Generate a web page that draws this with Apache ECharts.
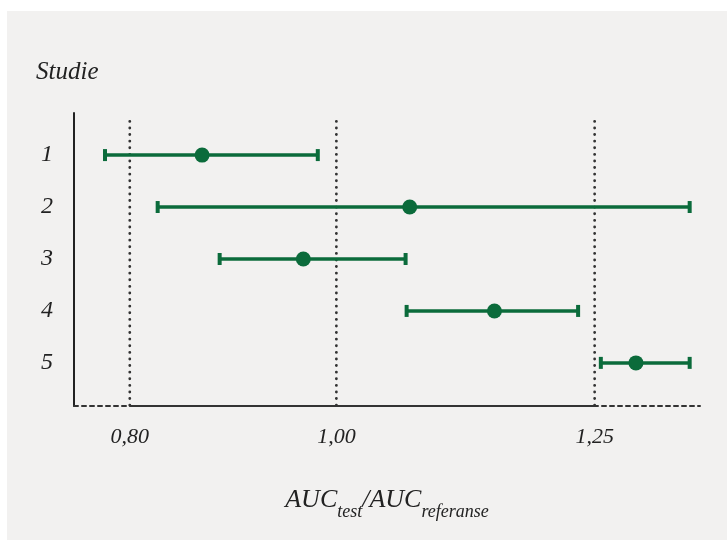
<!DOCTYPE html>
<html>
<head>
<meta charset="utf-8">
<script src="https://cdn.jsdelivr.net/npm/echarts@6/dist/echarts.min.js"></script>
<style>
  html, body { margin: 0; padding: 0; background: #fff; }
  #chart { width: 727px; height: 542px; }
</style>
</head>
<body>
<div id="chart"></div>
<script>
  // studier og konfidensintervall (AUC test / AUC referanse)
  var studies = [1, 2, 3, 4, 5]
  var lower = [0.776, 0.827, 0.887, 1.068, 1.256]
  var estimate = [0.870, 1.071, 0.968, 1.153, 1.290]
  var upper = [0.982, 1.342, 1.067, 1.234, 1.342]
  var limits = [0.80, 1.00, 1.25]

  var green = '#0b6b3b'
  var ink = '#222'
  var serif = '"Liberation Serif", "DejaVu Serif", serif'

  var xMin = 0.746
  var xMax = 1.352
  var yTop = 0.19
  var yBottom = 5.83

  var barData = []
  var pointData = []
  for (var i = 0; i < studies.length; i++) {
    barData.push([lower[i], upper[i], studies[i]])
    pointData.push([estimate[i], studies[i]])
  }

  var limitSeries = limits.map(function (v) {
    return {
      type: 'line',
      silent: true,
      symbol: 'none',
      z: 1,
      lineStyle: { color: '#333', width: 2.8, type: [0.1, 6.5], cap: 'round' },
      data: [[v, 0.35], [v, yBottom]]
    }
  })

  var chart = echarts.init(document.getElementById('chart'))
  var option = {
    backgroundColor: '#fff',
    animation: false,
    graphic: [{
      type: 'rect',
      z: -10,
      shape: { x: 7, y: 11, width: 720, height: 529 },
      style: { fill: '#f2f1f0' }
    }],
    title: {
      text: 'Studie',
      left: 31,
      top: 55,
      textStyle: { fontFamily: serif, fontStyle: 'italic', fontWeight: 'normal', fontSize: 25, color: ink }
    },
    grid: { left: 74, right: 27, top: 113, bottom: 136 },
    xAxis: {
      type: 'value',
      min: xMin,
      max: xMax,
      splitLine: { show: false },
      axisTick: { show: false },
      axisLine: { show: true, lineStyle: { color: '#333', width: 2, type: [4, 4] } },
      axisLabel: {
        customValues: limits,
        margin: 20,
        fontFamily: serif,
        fontStyle: 'italic',
        fontSize: 22,
        color: ink,
        formatter: function (v) { return v.toFixed(2).replace('.', ',') }
      },
      name: '{m|AUC}{s|test}{m|/AUC}{s|referanse}',
      nameLocation: 'middle',
      nameGap: 79,
      nameTextStyle: {
        rich: {
          m: { fontFamily: serif, fontStyle: 'italic', fontSize: 26, color: ink, lineHeight: 36, verticalAlign: 'bottom', padding: [0, 0, 8, 0] },
          s: { fontFamily: serif, fontStyle: 'italic', fontSize: 18, color: ink, lineHeight: 36, verticalAlign: 'bottom' }
        }
      }
    },
    yAxis: {
      type: 'value',
      inverse: true,
      min: yTop,
      max: yBottom,
      splitLine: { show: false },
      axisTick: { show: false },
      axisLine: { show: true, lineStyle: { color: '#222', width: 2 } },
      axisLabel: {
        customValues: studies,
        margin: 21,
        fontFamily: serif,
        fontStyle: 'italic',
        fontSize: 24,
        color: ink
      }
    },
    series: limitSeries.concat([
      {
        // heltrukken akse mellom grensene
        type: 'line',
        silent: true,
        symbol: 'none',
        z: 2,
        lineStyle: { color: '#333', width: 2 },
        data: [[limits[0], yBottom], [limits[2], yBottom]]
      },
      {
        type: 'custom',
        z: 3,
        data: barData,
        renderItem: function (params, api) {
          var y = api.value(2)
          var p0 = api.coord([api.value(0), y])
          var p1 = api.coord([api.value(1), y])
          var h = 6
          var style = { stroke: green, lineWidth: 3.5 }
          return {
            type: 'group',
            children: [
              { type: 'line', shape: { x1: p0[0], y1: p0[1], x2: p1[0], y2: p1[1] }, style: style },
              { type: 'line', shape: { x1: p0[0], y1: p0[1] - h, x2: p0[0], y2: p0[1] + h }, style: { stroke: green, lineWidth: 4 } },
              { type: 'line', shape: { x1: p1[0], y1: p1[1] - h, x2: p1[0], y2: p1[1] + h }, style: { stroke: green, lineWidth: 4 } }
            ]
          }
        }
      },
      {
        type: 'scatter',
        z: 4,
        symbol: 'circle',
        symbolSize: 15,
        itemStyle: { color: green, opacity: 1 },
        data: pointData
      }
    ])
  }
  chart.setOption(option)
</script>
</body>
</html>
